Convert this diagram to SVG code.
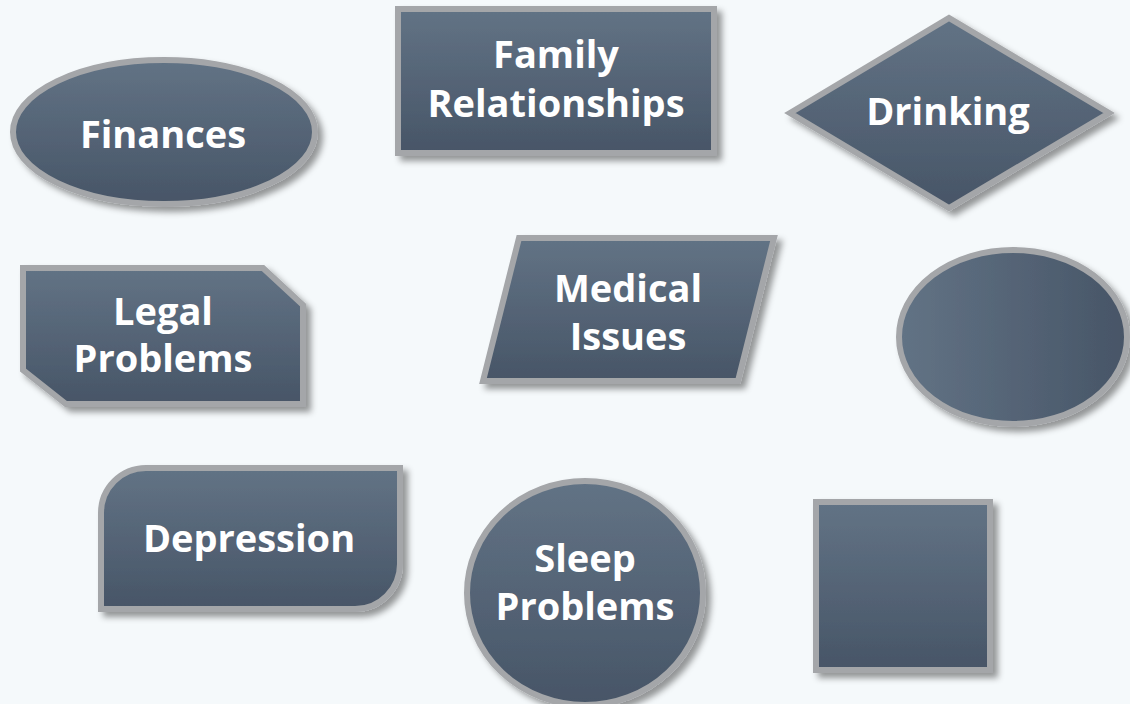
<svg xmlns="http://www.w3.org/2000/svg" width="1130" height="704" viewBox="0 0 1130 704">
<defs>
<linearGradient id="gv" x1="0" y1="0" x2="0" y2="1">
<stop offset="0" stop-color="#627385"/>
<stop offset="1" stop-color="#475567"/>
</linearGradient>
<linearGradient id="gh" x1="0" y1="0" x2="1" y2="0">
<stop offset="0" stop-color="#627385"/>
<stop offset="1" stop-color="#475567"/>
</linearGradient>
<filter id="sh" x="-10%" y="-10%" width="125%" height="125%">
<feDropShadow dx="5" dy="5" stdDeviation="3" flood-color="#000" flood-opacity="0.4"/>
</filter>
<style>
.s{fill:url(#gv);stroke:#a4a6a9;stroke-width:6;filter:url(#sh)}
.sh{fill:url(#gh);stroke:#a4a6a9;stroke-width:6;filter:url(#sh)}
.t{font-family:"Open Sans","Noto Sans","DejaVu Sans",sans-serif;font-weight:bold;font-size:38px;fill:#ffffff;text-anchor:middle}
</style>
</defs>
<rect width="1130" height="704" fill="#f5f9fb"/>
<g id="finances">
<ellipse class="s" cx="164" cy="132" rx="151" ry="72"/>
<text class="t" x="163" y="148" font-size="39.5">Finances</text>
</g>
<g id="family">
<rect class="s" x="398" y="9" width="316" height="144"/>
<text class="t" x="556" y="68">Family</text>
<text class="t" x="556" y="117">Relationships</text>
</g>
<g id="drinking">
<path class="s" d="M790,113 L949,18 L1109,113 L949,208 Z"/>
<text class="t" x="948" y="125" font-size="39.5">Drinking</text>
</g>
<g id="legal">
<path class="s" d="M23,268 L263,268 L303,305 L303,404 L66,404 L23,370 Z"/>
<text class="t" x="163" y="325">Legal</text>
<text class="t" x="163" y="372">Problems</text>
</g>
<g id="medical">
<path class="s" d="M519,238 L774,238 L738,381 L483,381 Z"/>
<text class="t" x="628" y="302">Medical</text>
<text class="t" x="628" y="350">Issues</text>
</g>
<g id="oval">
<ellipse class="sh" cx="1013" cy="337" rx="114" ry="87"/>
</g>
<g id="depression">
<path class="s" d="M146,468 L400,468 L400,564 A45,45 0 0 1 355,609 L101,609 L101,513 A45,45 0 0 1 146,468 Z"/>
<text class="t" x="249" y="552" font-size="39.5">Depression</text>
</g>
<g id="sleep">
<ellipse class="s" cx="585" cy="593" rx="118" ry="112"/>
<text class="t" x="585" y="572">Sleep</text>
<text class="t" x="585" y="620">Problems</text>
</g>
<g id="square">
<rect class="s" x="816" y="502" width="174" height="168"/>
</g>
<g id="connectors"/>
</svg>
